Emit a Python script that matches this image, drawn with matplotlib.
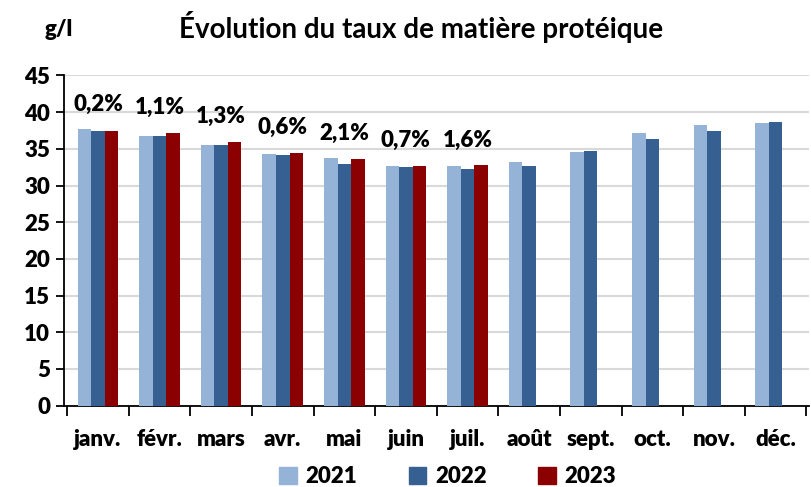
import numpy as np
import matplotlib.pyplot as plt
from matplotlib.patches import Patch

plt.rcParams['font.family'] = ['Lato', 'DejaVu Sans']

months = ['janv.', 'févr.', 'mars', 'avr.', 'mai', 'juin', 'juil.',
          'août', 'sept.', 'oct.', 'nov.', 'déc.']
v2021 = [37.7, 36.7, 35.5, 34.3, 33.7, 32.7, 32.7, 33.2, 34.6, 37.1, 38.3, 38.5]
v2022 = [37.4, 36.8, 35.5, 34.2, 32.9, 32.5, 32.3, 32.6, 34.7, 36.3, 37.4, 38.7]
v2023 = [37.5, 37.2, 36.0, 34.5, 33.6, 32.7, 32.8]
pct_labels = ['0,2%', '1,1%', '1,3%', '0,6%', '2,1%', '0,7%', '1,6%']

c2021 = '#95b3d7'
c2022 = '#366092'
c2023 = '#8b0000'

fs = 16

fig = plt.figure(figsize=(8.11, 4.87), dpi=100)
ax = fig.add_axes([0.079, 0.167, 0.919, 0.678])

x = np.arange(len(months))
w = 0.22
ax.bar(x - w, v2021, w, color=c2021, zorder=3)
ax.bar(x, v2022, w, color=c2022, zorder=3)
x23 = x[:len(v2023)]
ax.bar(x23 + w, v2023, w, color=c2023, zorder=3)

for i, lab in enumerate(pct_labels):
    top = max(v2021[i], v2022[i], v2023[i])
    ax.annotate(lab, (x[i], top), xytext=(0, 18), textcoords='offset points',
                ha='center', va='center', fontsize=fs, fontweight='heavy')

ax.set_ylim(0, 45)
ax.set_yticks(range(0, 46, 5))
ax.set_xlim(-0.55, len(months) - 0.45)
ax.set_xticks(x)
ax.set_xticklabels(months)
ax.set_xticks(np.arange(-0.5, len(months), 1), minor=True)
ax.tick_params(axis='x', which='major', length=0, pad=17, labelsize=fs)
ax.tick_params(axis='x', which='minor', length=7, width=1.3, direction='out')
ax.tick_params(axis='y', length=6, width=1.3, labelsize=fs, pad=4)
for lab in ax.get_xticklabels() + ax.get_yticklabels():
    lab.set_fontweight('heavy')

ax.grid(axis='y', color='#d9d9d9', linewidth=1.5, zorder=0)
for s in ['top', 'right']:
    ax.spines[s].set_visible(False)
ax.spines['left'].set_linewidth(1.3)
ax.spines['bottom'].set_linewidth(1.3)

fig.text(0.519, 0.945, 'Évolution du taux de matière protéique', ha='center', va='center',
         fontsize=20, fontweight='bold')
fig.text(0.055, 0.94, 'g/l', ha='left', va='center', fontsize=fs, fontweight='heavy')

handles = [Patch(color=c2021, label='2021'), Patch(color=c2022, label='2022'),
           Patch(color=c2023, label='2023')]
leg = fig.legend(handles=handles, loc='center', bbox_to_anchor=(0.552, 0.022), ncol=3,
                 frameon=False, handlelength=0.8, handleheight=0.8, columnspacing=2.3,
                 handletextpad=0.4, prop={'weight': 'heavy', 'size': fs})

fig.savefig('out.png', dpi=100)
